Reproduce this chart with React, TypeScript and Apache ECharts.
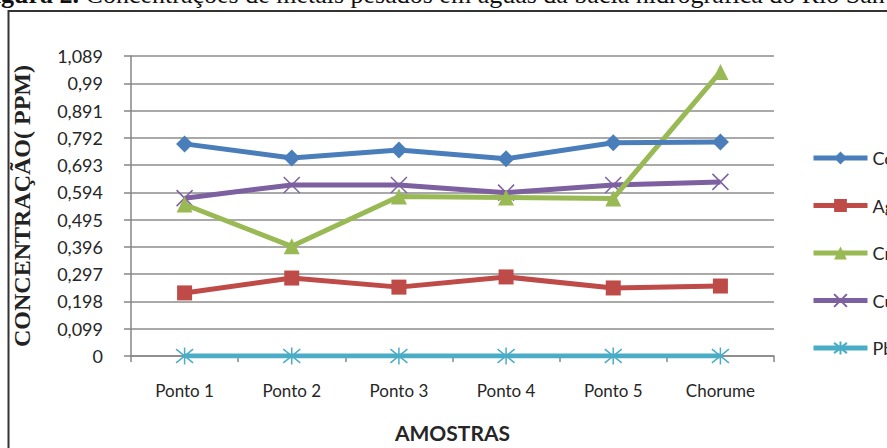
import React, { useEffect, useRef } from "react";
import * as echarts from "echarts";

const categories = ["Ponto 1", "Ponto 2", "Ponto 3", "Ponto 4", "Ponto 5", "Chorume"];
const seriesNames = ["Co", "Ag", "Cr", "Cu", "Pb"];
const coValues = [0.77, 0.719, 0.748, 0.716, 0.774, 0.777];
const agValues = [0.229, 0.283, 0.25, 0.287, 0.247, 0.254];
const crValues = [0.55, 0.398, 0.579, 0.575, 0.572, 1.031];
const cuValues = [0.573, 0.621, 0.621, 0.593, 0.621, 0.632];
const pbValues = [0, 0, 0, 0, 0, 0];
const yTickLabels = ["0", "0,099", "0,198", "0,297", "0,396", "0,495", "0,594", "0,693", "0,792", "0,891", "0,99", "1,089"];
const yStep = 0.099;
const yMax = 1.089;

const colors = ["#4A7EBB", "#BE4B48", "#98B954", "#7D60A0", "#4BACC6"];
const symbolX = "path://M0,0 L10,10 M10,0 L0,10";
const symbolStar = "path://M5,0 L5,10 M1,1 L9,9 M1,9 L9,1";

export default function App() {
  const ref = useRef<HTMLDivElement>(null);
  useEffect(() => {
    if (!ref.current) return;
    const chart = echarts.init(ref.current, null, { renderer: "svg" });
    const values = [coValues, agValues, crValues, cuValues, pbValues];
    const symbols = ["diamond", "rect", "triangle", symbolX, symbolStar];
    const sizes = [17, 15, 16, 16, 17];
    chart.setOption({
      animation: false,
      backgroundColor: "#ffffff",
      grid: { left: 131, right: 113, top: 56, bottom: 92, containLabel: false, outerBoundsMode: "none" },
      legend: {
        orient: "vertical",
        left: 806,
        top: 144,
        itemWidth: 54,
        itemHeight: 16,
        itemGap: 29.5,
        data: seriesNames,
        lineStyle: { width: 5 },
        textStyle: { fontFamily: "Lato", fontSize: 18, color: "#262626" },
      },
      xAxis: {
        type: "category",
        data: categories,
        boundaryGap: true,
        name: "AMOSTRAS",
        nameLocation: "middle",
        nameGap: 66,
        nameTextStyle: { fontFamily: "Lato", fontWeight: "bold", fontSize: 21, color: "#262626" },
        axisLine: { lineStyle: { color: "#868686", width: 1.5 } },
        axisTick: { show: true, length: 6, lineStyle: { color: "#868686", width: 1.5 } },
        axisLabel: { fontFamily: "Lato", fontSize: 17, color: "#262626", margin: 26 },
      },
      yAxis: {
        type: "value",
        min: 0,
        max: yMax,
        interval: yStep,
        name: "CONCENTRAÇÃO( PPM)",
        nameLocation: "middle",
        nameGap: 97,
        nameTextStyle: { fontFamily: "Liberation Serif", fontWeight: "bold", fontSize: 24, color: "#222" },
        axisLine: { show: true, lineStyle: { color: "#868686", width: 1.5 } },
        axisTick: { show: true, length: 7, lineStyle: { color: "#868686", width: 1.5 } },
        splitLine: { lineStyle: { color: "#8c8c8c", width: 1.5 } },
        axisLabel: {
          fontFamily: "Lato",
          fontSize: 18,
          color: "#262626",
          margin: 28,
          formatter: (v: number) => yTickLabels[Math.round(v / yStep)] ?? "",
        },
      },
      series: seriesNames.map((name, i) => ({
        name,
        type: "line",
        data: values[i],
        symbol: symbols[i],
        symbolSize: sizes[i],
        showSymbol: true,
        color: colors[i],
        lineStyle: { color: colors[i], width: 5 },
        itemStyle: { color: colors[i], borderColor: colors[i], borderWidth: i >= 3 ? 1.5 : 0 },
        z: 10 - i,
      })),
      graphic: [
        {
          type: "rect",
          shape: { x: 8.5, y: 11, width: 1000, height: 600 },
          style: { fill: "none", stroke: "#333", lineWidth: 2 },
          z: -1,
        },
        {
          type: "text",
          x: -22,
          y: 7,
          style: {
            text: "{b|Figura 2.} Concentrações de metais pesados em águas da bacia hidrográfica do Rio San",
            font: "26px 'Liberation Serif'",
            fill: "#111",
            verticalAlign: "bottom",
            rich: { b: { fontWeight: "bold", fontFamily: "Liberation Serif", fontSize: 26, fill: "#111" } },
          },
        },
      ],
    });
    return () => chart.dispose();
  }, []);
  return <div ref={ref} style={{ position: "fixed", left: 0, top: 0, width: 887, height: 448 }} />;
}
